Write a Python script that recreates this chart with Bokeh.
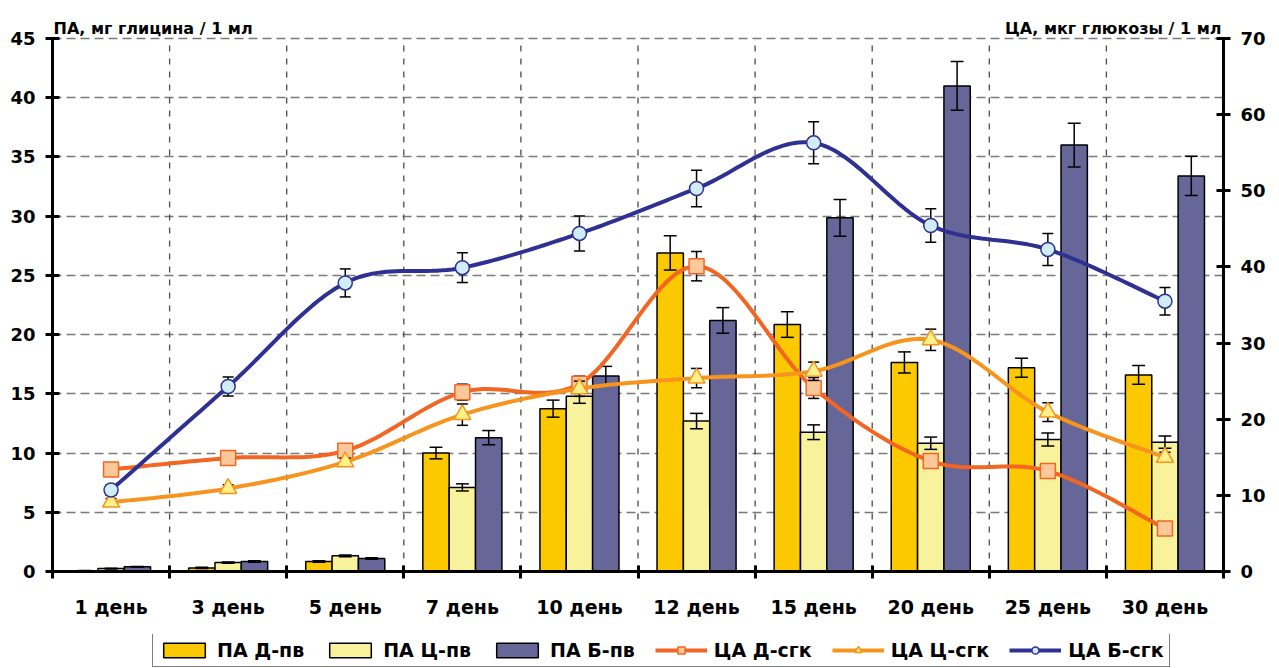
import numpy as np
from bokeh.plotting import figure
from bokeh.layouts import column
from bokeh.models import (Range1d, LinearAxis, FixedTicker, Legend, LegendItem, Label)
from bokeh.embed import file_html
from bokeh.resources import INLINE

# ---- data -------------------------------------------------------------
days = ["1 день", "3 день", "5 день", "7 день", "10 день",
        "12 день", "15 день", "20 день", "25 день", "30 день"]

# ПА, мг глицина / 1 мл (left axis)
pa_d = [0.05, 0.30, 0.84, 10.0, 13.75, 26.9, 20.85, 17.65, 17.2, 16.6]
pa_d_err = [0.03, 0.05, 0.06, 0.49, 0.72, 1.45, 1.08, 0.89, 0.81, 0.79]
pa_c = [0.25, 0.75, 1.32, 7.1, 14.8, 12.7, 11.76, 10.83, 11.15, 10.92]
pa_c_err = [0.03, 0.06, 0.08, 0.30, 0.60, 0.65, 0.62, 0.52, 0.55, 0.52]
pa_b = [0.40, 0.84, 1.10, 11.3, 16.5, 21.2, 29.86, 41.0, 36.0, 33.4]
pa_b_err = [0.03, 0.06, 0.07, 0.60, 0.82, 1.08, 1.55, 2.05, 1.85, 1.65]

# ЦА, мкг глюкозы / 1 мл (right axis)
ca_d = [13.4, 14.9, 15.85, 23.55, 24.65, 40.1, 24.1, 14.5, 13.2, 5.65]
ca_d_err = [0.4, 0.5, 0.5, 1.05, 1.0, 1.93, 1.37, 0.6, 0.5, 0.4]
ca_c = [9.1, 10.9, 14.4, 20.6, 24.0, 25.4, 26.3, 30.43, 20.93, 15.0]
ca_c_err = [0.5, 0.5, 0.5, 1.4, 1.0, 1.27, 1.2, 1.4, 1.24, 0.66]
ca_b = [10.7, 24.3, 37.9, 39.9, 44.4, 50.3, 56.3, 45.44, 42.3, 35.5]
ca_b_err = [0.7, 1.25, 1.84, 1.95, 2.3, 2.4, 2.76, 2.2, 2.1, 1.8]

left_ticks = [0, 5, 10, 15, 20, 25, 30, 35, 40, 45]
right_ticks = [0, 10, 20, 30, 40, 50, 60, 70]
left_max, right_max = 45, 70

series_names = ["ПА Д-пв", "ПА Ц-пв", "ПА Б-пв", "ЦА Д-сгк", "ЦА Ц-сгк", "ЦА Б-сгк"]
left_title = "ПА, мг глицина / 1 мл"
right_title = "ЦА, мкг глюкозы / 1 мл"

# ---- styling ----------------------------------------------------------
FONT = "DejaVu Sans"
bar_colors = ["#FCC800", "#F7F29B", "#666699"]
line_colors = ["#F26522", "#F7941D", "#2E3192"]
marker_fills = ["#FDC899", "#FFF08A", "#CFECF7"]
markers = ["square", "triangle", "circle"]
marker_sizes = [15, 17, 14]

W = 1279
MAIN_H = 634            # chart part; the legend strip sits below it
LEG_H = 34
TOP_PAD = 38            # room above the value area for the axis titles
BOTTOM = 63
plot_h = MAIN_H - BOTTOM
head = TOP_PAD / (plot_h - TOP_PAD)   # fraction of the value span added on top

n = len(days)
centers = np.arange(n) + 0.5
bounds = list(range(n + 1))

p = figure(width=W, height=MAIN_H, x_range=Range1d(0, n),
           y_range=Range1d(0, left_max * (1 + head)),
           output_backend="svg", toolbar_location=None,
           min_border_left=52, min_border_right=56, min_border_top=0,
           min_border_bottom=BOTTOM, background_fill_color="white",
           border_fill_color="white")
p.outline_line_color = None
p.extra_y_ranges = {"right": Range1d(0, right_max * (1 + head))}

# horizontal grid
p.xgrid.visible = False
p.ygrid.ticker = FixedTicker(ticks=left_ticks[1:])
p.ygrid.grid_line_color = "#7a7a7a"
p.ygrid.grid_line_dash = "9 5"
p.ygrid.grid_line_width = 1.3

# vertical grid at the category borders, limited to the value area
p.segment(x0=bounds[1:-1], y0=0, x1=bounds[1:-1], y1=left_max,
          line_color="#4a4a4a", line_dash="6 7", line_width=1.3)

# left axis
ya = p.yaxis[0]
ya.ticker = FixedTicker(ticks=left_ticks)
ya.bounds = (0, left_max)
ya.axis_line_width = 3
ya.major_tick_line_width = 3
ya.major_tick_in = 7
ya.major_tick_out = 7
ya.minor_tick_line_color = None
ya.major_label_standoff = 10
ya.major_label_text_font = FONT
ya.major_label_text_font_style = "bold"
ya.major_label_text_font_size = "18px"
ya.major_label_text_color = "black"

# right axis
ra = LinearAxis(y_range_name="right", ticker=FixedTicker(ticks=right_ticks),
                bounds=(0, right_max))
ra.axis_line_width = 3
ra.major_tick_line_width = 3
ra.major_tick_in = 7
ra.major_tick_out = 7
ra.minor_tick_line_color = None
ra.major_label_standoff = 10
ra.major_label_text_font = FONT
ra.major_label_text_font_style = "bold"
ra.major_label_text_font_size = "18px"
ra.major_label_text_color = "black"
p.add_layout(ra, "right")

# bottom axis: labels at category centres, tick marks at category borders
xa = p.xaxis[0]
xa.ticker = FixedTicker(ticks=list(centers), minor_ticks=bounds)
xa.major_label_overrides = {float(c): d for c, d in zip(centers, days)}
xa.axis_line_width = 3
xa.major_tick_in = 0
xa.major_tick_out = 0
xa.minor_tick_line_color = "black"
xa.minor_tick_line_width = 3
xa.minor_tick_in = 6
xa.minor_tick_out = 7
xa.major_label_standoff = 17
xa.major_label_text_font = FONT
xa.major_label_text_font_style = "bold"
xa.major_label_text_font_size = "19px"
xa.major_label_text_color = "black"

# ---- bars -------------------------------------------------------------
bar_w = 0.225
offsets = [-bar_w, 0.0, bar_w]
for vals, col, off in zip([pa_d, pa_c, pa_b], bar_colors, offsets):
    p.vbar(x=centers + off, top=vals, width=bar_w, bottom=0, fill_color=col,
           line_color="black", line_width=1.5)

cap = 0.055
for vals, errs, off in zip([pa_d, pa_c, pa_b], [pa_d_err, pa_c_err, pa_b_err], offsets):
    xs = centers + off
    v = np.array(vals)
    e = np.array(errs)
    p.segment(x0=xs, y0=v - e, x1=xs, y1=v + e, line_color="black", line_width=1.5)
    p.segment(x0=xs - cap, y0=v + e, x1=xs + cap, y1=v + e, line_color="black", line_width=1.5)
    p.segment(x0=xs - cap, y0=v - e, x1=xs + cap, y1=v - e, line_color="black", line_width=1.5)


def smooth_curve(xs, ys, steps=24):
    """Cubic Bezier through the points (Catmull-Rom style control points)."""
    pts = np.column_stack([xs, ys]).astype(float)
    out = []
    m = len(pts)
    t = np.linspace(0, 1, steps)[:, None]
    for i in range(m - 1):
        p0 = pts[i - 1] if i > 0 else pts[i]
        p1 = pts[i]
        p2 = pts[i + 1]
        p3 = pts[i + 2] if i + 2 < m else pts[i + 1]
        c1 = p1 + (p2 - p0) / 6.0
        c2 = p2 - (p3 - p1) / 6.0
        seg = ((1 - t) ** 3) * p1 + 3 * ((1 - t) ** 2) * t * c1 \
            + 3 * (1 - t) * t ** 2 * c2 + t ** 3 * p2
        out.append(seg if i == 0 else seg[1:])
    arr = np.vstack(out)
    return arr[:, 0], arr[:, 1]


# ---- lines ------------------------------------------------------------
mcap = 0.047
for vals, errs, lc, mf, mk, ms in zip([ca_d, ca_c, ca_b], [ca_d_err, ca_c_err, ca_b_err],
                                      line_colors, marker_fills, markers, marker_sizes):
    sx, sy = smooth_curve(centers, vals)
    p.line(sx, sy, line_color=lc, line_width=4, y_range_name="right")
    v = np.array(vals)
    e = np.array(errs)
    p.segment(x0=centers, y0=v - e, x1=centers, y1=v + e, line_color="black",
              line_width=1.5, y_range_name="right")
    p.segment(x0=centers - mcap, y0=v + e, x1=centers + mcap, y1=v + e, line_color="black",
              line_width=1.5, y_range_name="right")
    p.segment(x0=centers - mcap, y0=v - e, x1=centers + mcap, y1=v - e, line_color="black",
              line_width=1.5, y_range_name="right")
    p.scatter(centers, vals, marker=mk, size=ms, fill_color=mf, line_color=lc,
              line_width=1.5, y_range_name="right")

# ---- axis titles (top strip of the frame) -------------------------------
title_y = left_max + 10 / ((plot_h - TOP_PAD) / left_max)
p.add_layout(Label(x=0, y=title_y, x_offset=1, text=left_title, text_font=FONT,
                   text_font_style="bold", text_font_size="16px", text_align="left",
                   text_baseline="alphabetic", text_color="black"))
p.add_layout(Label(x=n, y=title_y, x_offset=-2, text=right_title, text_font=FONT,
                   text_font_style="bold", text_font_size="16px", text_align="right",
                   text_baseline="alphabetic", text_color="black"))

# ---- legend strip ---------------------------------------------------------
# (the column layout lines this strip's frame up with the chart frame above)
lg = figure(width=W, height=LEG_H, x_range=Range1d(0, 1), y_range=Range1d(0, 1),
            x_axis_location=None, y_axis_location=None,
            output_backend="svg", toolbar_location=None, min_border=0,
            background_fill_color="white", border_fill_color="white")
lg.outline_line_color = None
lg.grid.visible = False

# style-only renderers (a single empty row) that supply the legend swatches
blank = np.array([np.nan])
items = []
for name, col in zip(series_names[:3], bar_colors):
    r = lg.vbar(x=blank, top=blank, width=0.1, fill_color=col, line_color="black",
                line_width=1.5)
    items.append(LegendItem(label=name, renderers=[r]))
for name, lc, mf, mk in zip(series_names[3:], line_colors, marker_fills, markers):
    rl = lg.line(x=blank, y=blank, line_color=lc, line_width=4)
    rs = lg.scatter(x=blank, y=blank, marker=mk, fill_color=mf, line_color=lc,
                    line_width=1.5)
    items.append(LegendItem(label=name, renderers=[rl, rs]))

legend = Legend(items=items, orientation="horizontal", location=(100, 1),
                glyph_width=52, glyph_height=18, label_standoff=7, spacing=20,
                padding=5, margin=0, border_line_color="black", border_line_width=1.5,
                background_fill_alpha=1.0, label_text_font=FONT,
                label_text_font_style="bold", label_text_font_size="19px",
                label_text_color="black")
lg.add_layout(legend, "center")

layout = column(p, lg, spacing=0)
open("out.html", "w").write(file_html(layout, INLINE))
